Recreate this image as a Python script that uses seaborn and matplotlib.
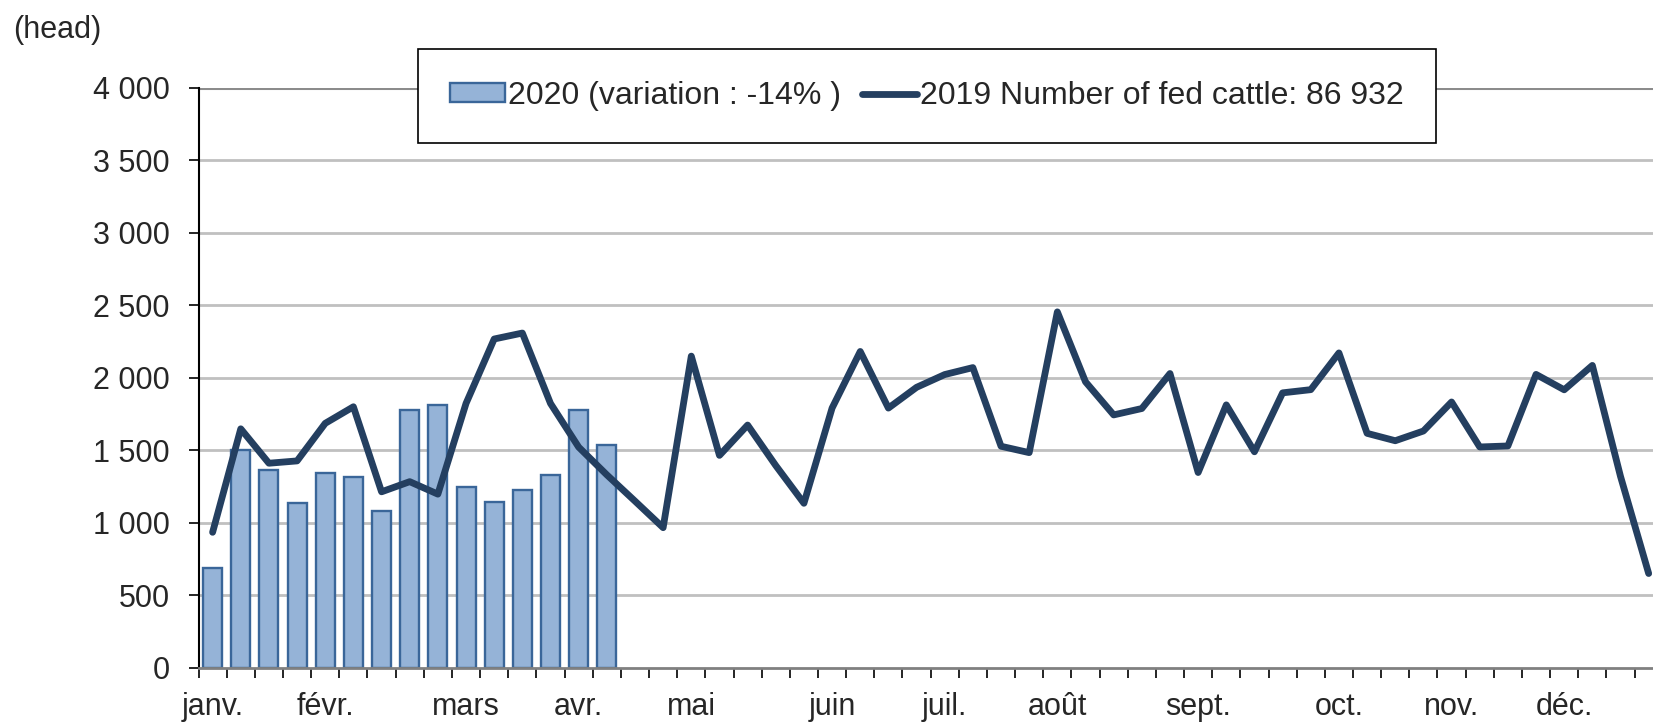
import pandas as pd
import matplotlib
matplotlib.use('Agg')
import matplotlib.pyplot as plt
import seaborn as sns
from matplotlib.patches import Patch
from matplotlib.lines import Line2D

# weekly number of fed cattle (head)
weeks = list(range(52))
cattle_2019 = [935, 1648, 1411, 1427, 1686, 1800, 1214, 1284, 1198, 1823,
               2267, 2308, 1823, 1522, 1331, 1150, 967, 2149, 1465, 1674,
               1395, 1135, 1791, 2181, 1791, 1934, 2022, 2070, 1528, 1484,
               2454, 1972, 1744, 1788, 2029, 1347, 1813, 1490, 1896, 1918,
               2171, 1617, 1566, 1633, 1833, 1523, 1530, 2023, 1917, 2085,
               1320, 651]
cattle_2020 = [690, 1500, 1365, 1140, 1345, 1315, 1085, 1780, 1810, 1250,
               1145, 1225, 1330, 1775, 1535]

month_labels = ['janv.', 'févr.', 'mars', 'avr.', 'mai', 'juin',
                'juil.', 'août', 'sept.', 'oct.', 'nov.', 'déc.']
month_weeks = [0, 4, 9, 13, 17, 22, 26, 30, 35, 40, 44, 48]
y_ticks = [0, 500, 1000, 1500, 2000, 2500, 3000, 3500, 4000]
y_tick_labels = ['0', '500', '1 000', '1 500', '2 000', '2 500', '3 000', '3 500', '4 000']

label_2020 = '2020 (variation : -14% )'
label_2019 = '2019 Number of fed cattle: 86 932'

bar_color = '#95B3D7'
bar_edge = '#3A6699'
line_color = '#243F60'
fs = 22

if __name__ == '__main__':
    df19 = pd.DataFrame({'week': weeks, 'head': cattle_2019})
    df20 = pd.DataFrame({'week': weeks[:len(cattle_2020)], 'head': cattle_2020})

    sns.set_style('white')
    plt.rcParams['font.family'] = ['Liberation Sans', 'DejaVu Sans']
    plt.rcParams['font.size'] = fs

    fig = plt.figure(figsize=(16.53, 7.22), dpi=100)
    ax = fig.add_axes([0.1201, 0.0748, 0.8858, 0.804])

    sns.barplot(data=df20, x='week', y='head', native_scale=True, width=0.675,
                color=bar_color, saturation=1, edgecolor=bar_edge, linewidth=1.7,
                ax=ax, zorder=2)
    sns.lineplot(data=df19, x='week', y='head', color=line_color, linewidth=4.9,
                 solid_joinstyle='round', solid_capstyle='round', ax=ax, zorder=3)

    ax.set_xlim(-0.5, 51.5)
    ax.set_ylim(0, 4000)
    ax.set_xlabel('')
    ax.set_ylabel('')

    # grid
    ax.set_yticks(y_ticks)
    ax.set_yticklabels(y_tick_labels)
    for y in y_ticks[1:-1]:
        ax.axhline(y, color='#C0C0C0', lw=2, zorder=1)
    ax.axhline(4000, color='#8C8C8C', lw=2.2, zorder=1)

    # ticks between weeks, month names under the first week of each month
    ax.set_xticks([w - 0.5 for w in weeks] + [51.5])
    ax.set_xticklabels([])
    ax.set_xticks(month_weeks, minor=True)
    ax.set_xticklabels(month_labels, minor=True)
    ax.tick_params(axis='x', which='major', direction='out', length=7, width=1.2,
                   color='black', bottom=True)
    ax.tick_params(axis='x', which='minor', length=0, pad=17, labelsize=fs)
    ax.tick_params(axis='y', direction='out', length=7.2, width=1.2, color='black',
                   left=True, pad=13.5, labelsize=fs)

    for side in ['top', 'right']:
        ax.spines[side].set_visible(False)
    ax.spines['left'].set_color('black')
    ax.spines['left'].set_linewidth(1.5)
    ax.spines['bottom'].set_color('#808080')
    ax.spines['bottom'].set_linewidth(2)

    handles = [Patch(facecolor=bar_color, edgecolor=bar_edge, linewidth=1.7),
               Line2D([0], [0], color=line_color, linewidth=4.9, solid_capstyle='round')]
    leg = fig.legend(handles, [label_2020, label_2019], loc='center',
                     bbox_to_anchor=(0.5606, 0.867), ncol=2, frameon=True,
                     fancybox=False, framealpha=1, edgecolor='black',
                     borderpad=1.0, handlelength=1.72, handleheight=0.55,
                     handletextpad=0.1, columnspacing=0.65, fontsize=23)
    leg.get_frame().set_linewidth(1.2)

    fig.text(13 / 1653, 1 - 38 / 722, '(head)', ha='left', va='baseline', fontsize=fs)

    plt.savefig('out.png', dpi=100)
